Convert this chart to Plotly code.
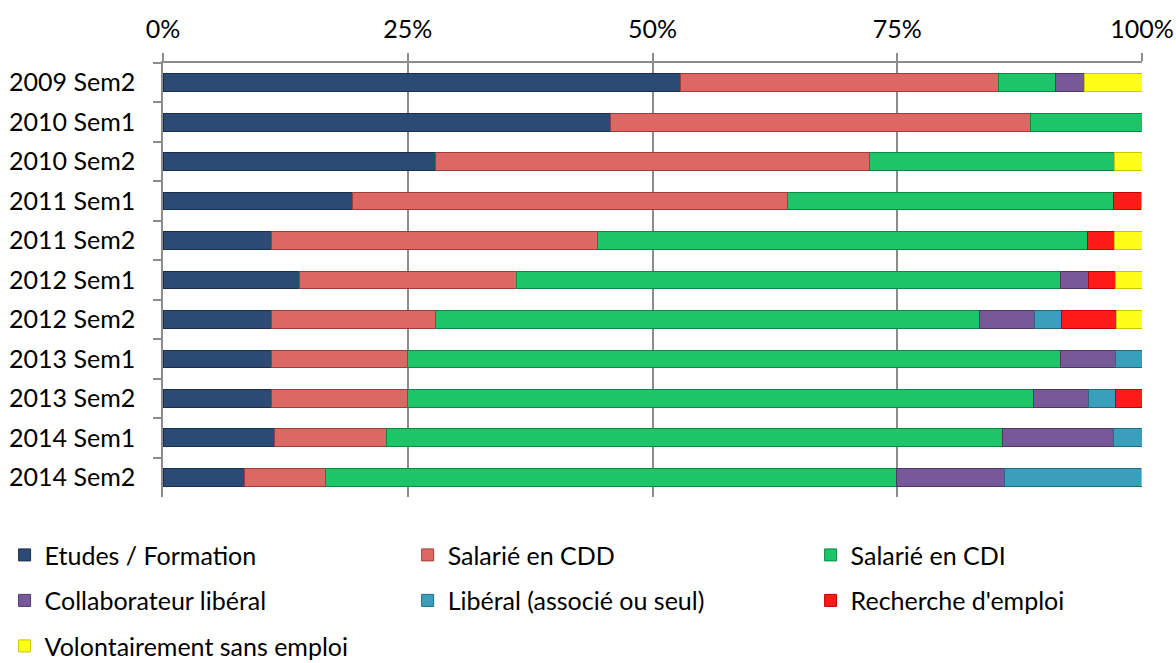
import plotly.graph_objects as go

categories = ["2009 Sem2", "2010 Sem1", "2010 Sem2", "2011 Sem1", "2011 Sem2", "2012 Sem1",
              "2012 Sem2", "2013 Sem1", "2013 Sem2", "2014 Sem1", "2014 Sem2"]

etudes = [52.9, 45.7, 27.8, 19.4, 11.1, 13.9, 11.1, 11.1, 11.1, 11.4, 8.3]
cdd = [32.4, 42.9, 44.4, 44.4, 33.3, 22.2, 16.7, 13.9, 13.9, 11.4, 8.3]
cdi = [5.9, 11.4, 25.0, 33.3, 50.0, 55.6, 55.6, 66.7, 63.9, 62.9, 58.3]
collab = [2.9, 0, 0, 0, 0, 2.8, 5.6, 5.6, 5.6, 11.4, 11.1]
liberal = [0, 0, 0, 0, 0, 0, 2.8, 2.8, 2.8, 2.9, 13.9]
recherche = [0, 0, 0, 2.8, 2.8, 2.8, 5.6, 0, 2.8, 0, 0]
volontaire = [5.9, 0, 2.8, 0, 2.8, 2.8, 2.8, 0, 0, 0, 0]

tick_vals = [0, 25, 50, 75, 100]
tick_text = ["0%", "25%", "50%", "75%", "100%"]

series = [
    ("Etudes / Formation", etudes, "#2b4a74", "#1a2f4d", "legend"),
    ("Salarié en CDD", cdd, "#dd6763", "#9e3e3b", "legend2"),
    ("Salarié en CDI", cdi, "#1dc468", "#0c8a45", "legend3"),
    ("Collaborateur libéral", collab, "#77599a", "#4b3866", "legend"),
    ("Libéral (associé ou seul)", liberal, "#3a9fba", "#226a7e", "legend2"),
    ("Recherche d'emploi", recherche, "#ff1a1a", "#c00000", "legend3"),
    ("Volontairement sans emploi", volontaire, "#ffff1a", "#c8c800", "legend"),
]

FONT = "Lato, 'Open Sans', sans-serif"

fig = go.Figure()
for name, vals, col, edge, leg in series:
    fig.add_trace(go.Bar(
        y=categories, x=vals, name=name, orientation="h",
        marker=dict(color=col, line=dict(color=edge, width=1)),
        legend=leg, legendgroup=name,
    ))

leg_common = dict(orientation="v", yanchor="top", xanchor="left", y=-0.081,
                  font=dict(family=FONT, size=25, color="black"),
                  traceorder="grouped", tracegroupgap=10, bgcolor="rgba(0,0,0,0)")

fig.update_layout(
    barmode="stack",
    bargap=0.55,
    width=1176, height=663,
    margin=dict(l=163, r=34, t=63, b=166, autoexpand=False),
    paper_bgcolor="white", plot_bgcolor="white",
    font=dict(family=FONT, size=25, color="black"),
    legend=dict(x=-0.1618, **leg_common),
    legend2=dict(x=0.2499, **leg_common),
    legend3=dict(x=0.6615, **leg_common),
    xaxis=dict(
        side="top", range=[0, 100], tickvals=tick_vals, ticktext=tick_text,
        showgrid=True, gridcolor="#8c8c8c", gridwidth=1.5,
        showline=True, linecolor="#8c8c8c", linewidth=1.5,
        ticks="outside", ticklen=8, tickcolor="#8c8c8c", tickwidth=1.5,
        ticklabelstandoff=5, zeroline=False, fixedrange=True, automargin=False,
    ),
    yaxis=dict(
        autorange="reversed", type="category",
        showline=True, linecolor="#8c8c8c", linewidth=1.5,
        ticks="outside", ticklen=8, tickcolor="#8c8c8c", tickwidth=1.5,
        tickson="boundaries", ticklabelstandoff=21, showgrid=False, automargin=False,
        fixedrange=True,
    ),
)

fig.write_html("out.html", config={"displayModeBar": False},
               post_script="document.body.style.margin='0';document.body.style.overflow='hidden';")
